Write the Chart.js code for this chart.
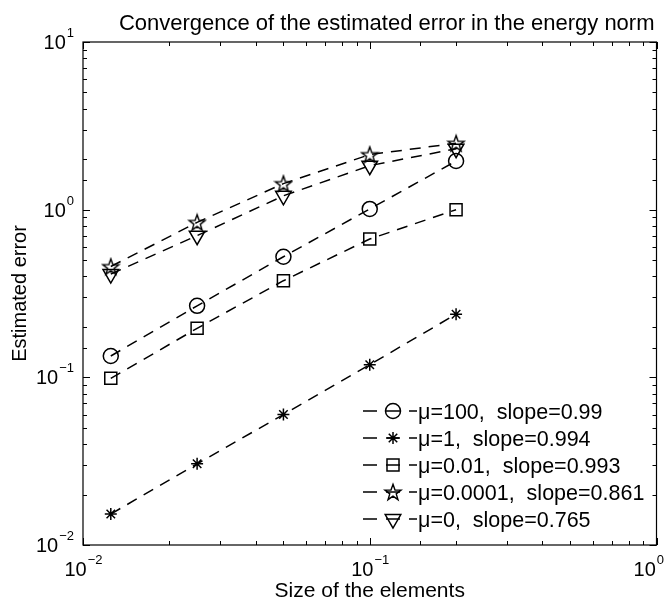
<!DOCTYPE html>
<html>
<head>
<meta charset="utf-8">
<script src="https://cdn.jsdelivr.net/npm/chart.js@4.4.0/dist/chart.umd.min.js"></script>
<style>
  html, body { margin: 0; padding: 0; background: #fff; }
  #wrap { width: 667px; height: 603px; }
</style>
</head>
<body>
<div id="wrap"><canvas id="chart" width="667" height="603"></canvas></div>
<script>
// element sizes (x) and estimated errors for each mu
var sizes = [0.0125, 0.025, 0.05, 0.1, 0.2];
var err_mu100 = [0.134, 0.267, 0.524, 1.01, 1.95];
var err_mu1 = [0.0153, 0.0305, 0.060, 0.119, 0.238];
var err_mu001 = [0.0986, 0.196, 0.377, 0.668, 1.0];
var err_mu00001 = [0.458, 0.84, 1.43, 2.13, 2.49];
var err_mu0 = [0.413, 0.70, 1.21, 1.83, 2.31];
var seriesLabels = ['\u03bc=100,  slope=0.99', '\u03bc=1,  slope=0.994', '\u03bc=0.01,  slope=0.993',
    '\u03bc=0.0001,  slope=0.861', '\u03bc=0,  slope=0.765'];
var xRange = [0.01, 1];
var yRange = [0.01, 10];
var chartTitle = 'Convergence of the estimated error in the energy norm';
var xTitle = 'Size of the elements';
var yTitle = 'Estimated error';

var FONT = '"Liberation Sans", Arial, Helvetica, sans-serif';

// five pointed star (matlab 'p' marker) drawn on a small canvas
function makePentagram() {
    var c = document.createElement('canvas');
    c.width = 20; c.height = 20;
    var g = c.getContext('2d');
    g.strokeStyle = '#000';
    g.lineWidth = 1.4;
    g.beginPath();
    for (var i = 0; i < 10; i++) {
        var r = (i % 2 === 0) ? 8.5 : 3.4;
        var a = -Math.PI / 2 + i * Math.PI / 5;
        var px = 10 + r * Math.cos(a), py = 10.8 + r * Math.sin(a);
        if (i === 0) g.moveTo(px, py); else g.lineTo(px, py);
    }
    g.closePath();
    g.stroke();
    return c;
}
var pentagram = makePentagram();

function toPoints(vals) {
    return sizes.map(function(x, i) { return {x: x, y: vals[i]}; });
}

function makeSet(label, vals, style, radius, rotation) {
    return {
        label: label,
        data: toPoints(vals),
        borderColor: '#000',
        borderWidth: 1.5,
        borderDash: [11, 8],
        backgroundColor: 'transparent',
        pointStyle: style,
        pointRadius: radius,
        pointHoverRadius: radius,
        pointRotation: rotation || 0,
        pointBorderColor: '#000',
        pointBackgroundColor: 'transparent',
        pointBorderWidth: 1.5,
        fill: false,
        tension: 0
    };
}

function isDecade(v) {
    var lg = Math.log10(v);
    return Math.abs(lg - Math.round(lg)) < 1e-6;
}

// ticks pointing inwards on all four sides, box, superscript labels, titles and legend
var axesPlugin = {
    id: 'matlabAxes',
    afterDraw: function(chart) {
        var ctx = chart.ctx;
        var a = chart.chartArea;
        var xs = chart.scales.x, ys = chart.scales.y;
        ctx.save();
        ctx.strokeStyle = '#000';
        ctx.lineWidth = 1.2;
        ctx.strokeRect(a.left, a.top, a.right - a.left, a.bottom - a.top);
        ctx.lineWidth = 1;
        ctx.beginPath();
        xs.ticks.forEach(function(t) {
            var px = Math.round(xs.getPixelForValue(t.value)) + 0.5;
            var len = isDecade(t.value) ? 7 : 4;
            ctx.moveTo(px, a.bottom); ctx.lineTo(px, a.bottom - len);
            ctx.moveTo(px, a.top); ctx.lineTo(px, a.top + len);
        });
        ys.ticks.forEach(function(t) {
            var py = Math.round(ys.getPixelForValue(t.value)) + 0.5;
            var len = isDecade(t.value) ? 7 : 4;
            ctx.moveTo(a.left, py); ctx.lineTo(a.left + len, py);
            ctx.moveTo(a.right, py); ctx.lineTo(a.right - len, py);
        });
        ctx.stroke();

        ctx.fillStyle = '#000';
        ctx.textBaseline = 'alphabetic';
        ctx.textAlign = 'left';
        function expLabel(value) {
            var e = Math.round(Math.log10(value));
            return e < 0 ? '\u2212' + (-e) : String(e);
        }
        // x tick labels
        xs.ticks.forEach(function(t) {
            if (!isDecade(t.value)) return;
            var px = xs.getPixelForValue(t.value);
            ctx.font = '20px ' + FONT;
            var w1 = ctx.measureText('10').width;
            ctx.font = '13px ' + FONT;
            var ex = expLabel(t.value);
            var w2 = ctx.measureText(ex).width;
            var x0 = Math.min(px - (w1 + w2) / 2, chart.width - 4 - w1 - w2);
            ctx.font = '20px ' + FONT;
            ctx.fillText('10', x0, a.bottom + 31);
            ctx.font = '13px ' + FONT;
            ctx.fillText(ex, x0 + w1 + 1, a.bottom + 19);
        });
        // y tick labels
        ys.ticks.forEach(function(t) {
            if (!isDecade(t.value)) return;
            var py = ys.getPixelForValue(t.value);
            ctx.font = '13px ' + FONT;
            var ex = expLabel(t.value);
            var w2 = ctx.measureText(ex).width;
            ctx.font = '20px ' + FONT;
            var w1 = ctx.measureText('10').width;
            var x1 = a.left - 9;
            ctx.fillText('10', x1 - w2 - 1 - w1, py + 7);
            ctx.font = '13px ' + FONT;
            ctx.fillText(ex, x1 - w2, py - 5);
        });
        // chart title and axis titles
        ctx.font = '22px ' + FONT;
        ctx.textAlign = 'right';
        ctx.fillText(chartTitle, a.right - 2, 30);
        ctx.font = '21px ' + FONT;
        ctx.textAlign = 'center';
        ctx.fillText(xTitle, (a.left + a.right) / 2, 597);
        ctx.save();
        ctx.translate(26, (a.top + a.bottom) / 2);
        ctx.rotate(-Math.PI / 2);
        ctx.font = '20px ' + FONT;
        ctx.fillText(yTitle, 0, 0);
        ctx.restore();

        // legend, inside the axes at the lower right
        chart.data.datasets.forEach(function(ds, i) {
            var ly = 411 + 27 * i;
            ctx.save();
            ctx.lineWidth = 1.5;
            ctx.setLineDash([14, 9]);
            ctx.beginPath();
            ctx.moveTo(363, ly); ctx.lineTo(417, ly);
            ctx.stroke();
            ctx.restore();
            ctx.save();
            ctx.fillStyle = 'rgba(0,0,0,0)';
            ctx.strokeStyle = '#000';
            ctx.lineWidth = 1.5;
            Chart.helpers.drawPoint(ctx, {
                pointStyle: ds.pointStyle,
                radius: ds.pointRadius,
                rotation: ds.pointRotation,
                borderWidth: 1.5
            }, 393, ly);
            ctx.restore();
            ctx.font = '21.5px ' + FONT;
            ctx.textAlign = 'left';
            ctx.fillText(ds.label, 418, ly + 8);
        });
        ctx.restore();
    }
};

var ctx = document.getElementById('chart').getContext('2d');
new Chart(ctx, {
    type: 'line',
    data: {
        datasets: [
            makeSet(seriesLabels[0], err_mu100, 'circle', 7.5),
            makeSet(seriesLabels[1], err_mu1, 'star', 6),
            makeSet(seriesLabels[2], err_mu001, 'rect', 8.5),
            makeSet(seriesLabels[3], err_mu00001, pentagram, 9),
            makeSet(seriesLabels[4], err_mu0, 'triangle', 9, 180)
        ]
    },
    options: {
        responsive: false,
        animation: false,
        events: [],
        layout: { padding: { left: 75, right: 7, top: 42, bottom: 50 } },
        plugins: {
            legend: { display: false },
            tooltip: { enabled: false },
            title: { display: false }
        },
        scales: {
            x: {
                type: 'logarithmic',
                min: xRange[0],
                max: xRange[1],
                ticks: { display: false },
                grid: { display: false },
                border: { display: false }
            },
            y: {
                type: 'logarithmic',
                min: yRange[0],
                max: yRange[1],
                ticks: { display: false },
                grid: { display: false },
                border: { display: false }
            }
        }
    },
    plugins: [axesPlugin]
});
</script>
</body>
</html>
